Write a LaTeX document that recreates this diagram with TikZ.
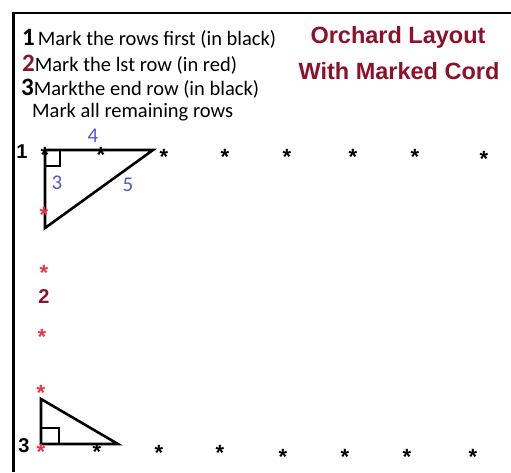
\documentclass[tikz,border=0pt]{standalone}
\usepackage{fontspec}
\setmainfont{Carlito}
\newfontfamily\arialf{Liberation Sans}
\definecolor{titlered}{RGB}{139,18,42}
\definecolor{astred}{RGB}{235,50,70}
\definecolor{numblue}{RGB}{85,85,215}
\tikzset{
  ast/.style={font=\arialf\bfseries\fontsize{22}{22}\selectfont, inner sep=0pt, yshift=-4.7pt},
  redast/.style={ast, text=astred},
  hdr/.style={font=\fontsize{20.5}{24}\selectfont, anchor=west, inner sep=0pt},
  ttl/.style={font=\arialf\bfseries\fontsize{23.5}{28}\selectfont, text=titlered, inner sep=0pt},
  bluelbl/.style={font=\fontsize{21}{21}\selectfont, text=numblue, inner sep=0pt},
  rowlbl/.style={font=\arialf\bfseries\fontsize{20}{20}\selectfont, inner sep=0pt},
  tri/.style={line width=2.6pt, line join=miter},
  sq/.style={line width=2.2pt},
  frame/.style={line width=2.6pt}
}
\newcommand{\bigdig}[1]{{\bfseries\fontsize{25}{25}\selectfont #1}}
\begin{document}
\begin{tikzpicture}[x=1pt,y=-1pt]
\useasboundingbox (0,0) rectangle (511,472);
% frame
\coordinate (f1) at (511,13);
\coordinate (f0) at (13.5,13);
\coordinate (f2) at (13.5,472);
\draw[frame] (f1) -- (f0) -- (f2);
% header
\node[hdr] (l1) at (22,39) {\bigdig{1}\hspace{3pt}Mark the rows first (in black)};
\node[hdr] (l2) at (22,65) {\bigdig{\color{titlered}2}Mark the lst row (in red)};
\node[hdr] (l3) at (21,89) {\bigdig{3}Markthe end row (in black)};
\node[hdr] (l4) at (32,112) {Mark all remaining rows};
\node[ttl] (t1) at (398,37.5) {Orchard Layout};
\node[ttl] (t2) at (399,71) {With Marked Cord};
% triangle 1
\coordinate (a1) at (45,150);
\coordinate (b1) at (153,150);
\coordinate (c1) at (45,228);
\draw[tri] (a1) -- (b1) -- (c1) -- cycle;
\coordinate (s1) at (60,166);
\draw[sq] (a1) rectangle (s1);
\node[bluelbl] (n4) at (93,136) {4};
\node[bluelbl] (n3) at (57,183) {3};
\node[bluelbl] (n5) at (128,185) {5};
% row 1
\node[rowlbl] (r1) at (22,152) {1};
\node[ast] (p10) at (45,150) {*};
\node[ast] (p11) at (101,150) {*};
\node[ast] (p12) at (164,152) {*};
\node[ast] (p13) at (225,152) {*};
\node[ast] (p14) at (287,152) {*};
\node[ast] (p15) at (353,152) {*};
\node[ast] (p16) at (415,152) {*};
\node[ast] (p17) at (484,154) {*};
\node[redast] (q1) at (44,210) {*};
% row 2
\node[redast] (q2) at (44,268) {*};
\node[rowlbl, text=titlered] (r2) at (44,297) {2};
\node[redast] (q3) at (42,332) {*};
% triangle 3
\coordinate (a3) at (41,444);
\coordinate (b3) at (118,444);
\coordinate (c3) at (41,399);
\draw[tri] (a3) -- (b3) -- (c3) -- cycle;
\coordinate (s3) at (59,428);
\draw[sq] (a3) rectangle (s3);
\node[redast] (q4) at (41,388) {*};
\node[redast] (q5) at (41,447) {*};
\node[rowlbl] (r3) at (24,446) {3};
% row 3
\node[ast] (p31) at (97,447) {*};
\node[ast] (p32) at (159,448) {*};
\node[ast] (p33) at (220,448) {*};
\node[ast] (p34) at (283,452) {*};
\node[ast] (p35) at (345,452) {*};
\node[ast] (p36) at (407,452) {*};
\node[ast] (p37) at (473,452) {*};
\end{tikzpicture}
\end{document}
